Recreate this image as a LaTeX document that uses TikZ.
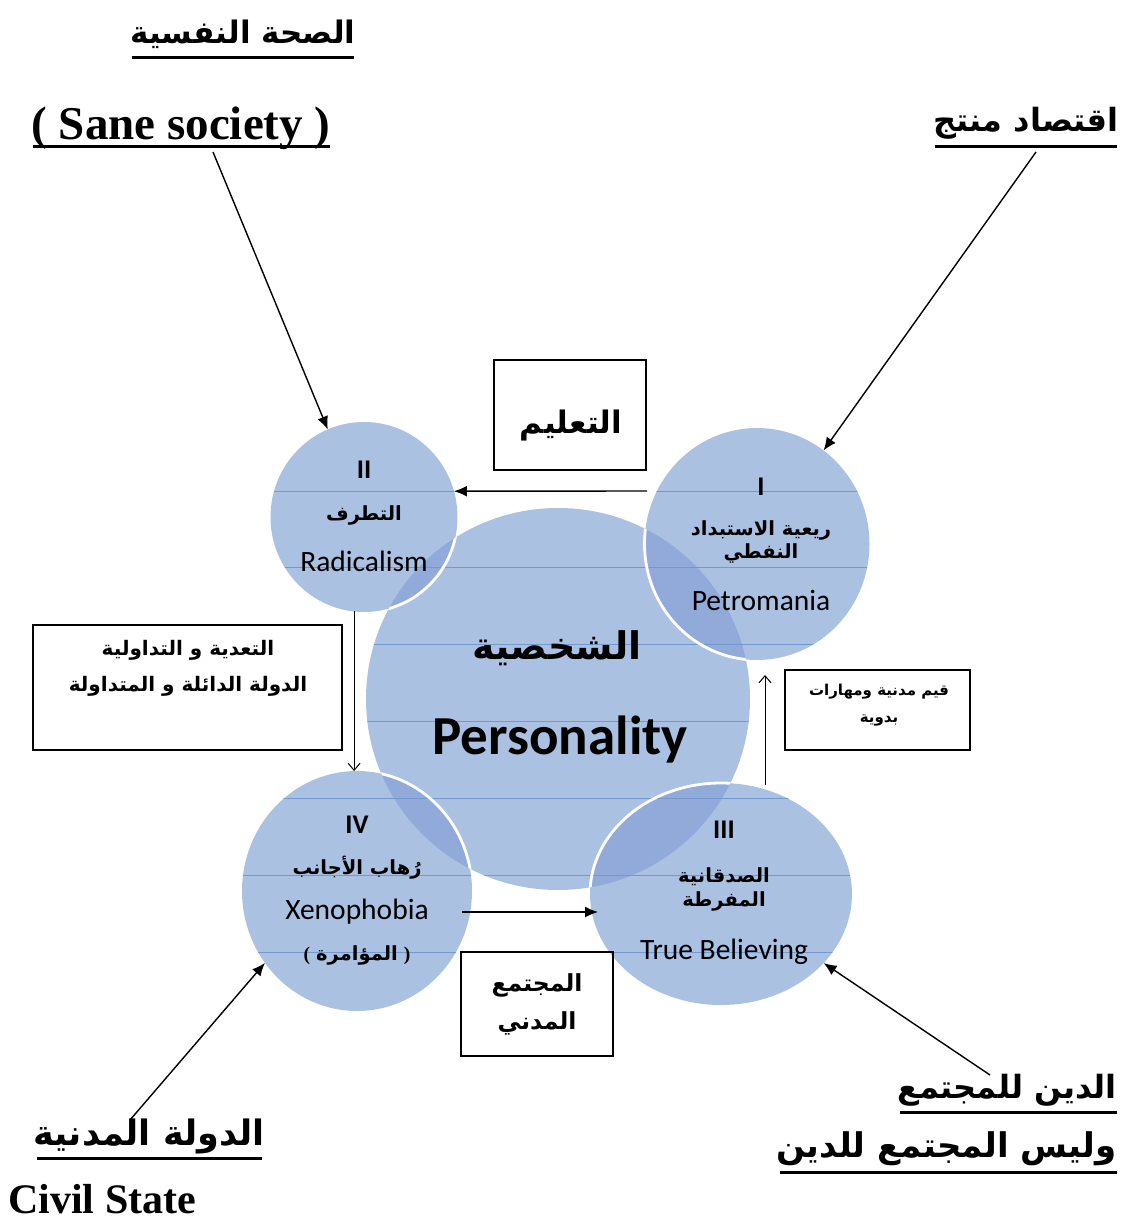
\documentclass[tikz,border=0pt]{standalone}
\usepackage{fontspec}
\setmainfont{Liberation Serif}
\newfontfamily\arabicfont[Script=Arabic]{DejaVu Sans}
\newfontfamily\calfont{Carlito}
\TeXXeTstate=1
\usetikzlibrary{shapes.geometric,arrows.meta}
\definecolor{cfill}{HTML}{AAC1E2}
\definecolor{cover}{HTML}{91AADA}
\definecolor{cline}{HTML}{7398D0}
\newcommand\AR[1]{{\arabicfont\beginR#1\endR}}
\begin{document}
\begin{tikzpicture}[x=1pt,y=-1pt,
  ell/.style={ellipse,inner sep=0pt,outer sep=0pt,fill=cfill,draw=none},
  boxn/.style={draw=black,line width=1.2pt,inner sep=0pt,outer sep=0pt},
  ctxt/.style={inner sep=0pt,font=\calfont\fontsize{29.5}{34}\selectfont},
  cnum/.style={inner sep=0pt,font=\calfont\bfseries\fontsize{27}{30}\selectfont},
  car/.style={inner sep=0pt,font=\bfseries\fontsize{19.5}{28}\selectfont,align=center},
  ttl/.style={inner sep=0pt},
  ul/.style={line width=3pt},
  arr/.style={-{Latex[length=13pt,width=11pt]},line width=1.4pt},
  tarr/.style={-{Straight Barb[length=7pt,width=12pt]},line width=1pt}]
\useasboundingbox (0,0) rectangle (1126,1221);
% circles
\node[ell,minimum width=384pt,minimum height=382pt] (pc) at (558,699) {};
\node[ell,minimum width=187pt,minimum height=190pt] (c2) at (364,517) {};
\node[ell,minimum width=225pt,minimum height=232pt] (c1) at (757,544) {};
\node[ell,minimum width=230pt,minimum height=240pt] (c4) at (357,891) {};
\node[ell,minimum width=262pt,minimum height=222pt] (c3) at (721,894) {};
\begin{scope}
  \clip (558,699) ellipse [x radius=192pt,y radius=191pt];
  \fill[cover] (364,517) ellipse [x radius=93.5pt,y radius=95pt]
               (757,544) ellipse [x radius=112.5pt,y radius=116pt]
               (357,891) ellipse [x radius=115pt,y radius=120pt]
               (721,894) ellipse [x radius=131pt,y radius=111pt];
\end{scope}
\begin{scope}
  \clip (558,699) ellipse [x radius=192pt,y radius=191pt]
        (364,517) ellipse [x radius=93.5pt,y radius=95pt]
        (757,544) ellipse [x radius=112.5pt,y radius=116pt]
        (357,891) ellipse [x radius=115pt,y radius=120pt]
        (721,894) ellipse [x radius=131pt,y radius=111pt];
  \foreach \yy in {491,567.5,644,721,798,875,952}
    \draw[cline,line width=0.6pt] (0,\yy) -- (1126,\yy);
\end{scope}
\begin{scope}
  \clip (558,699) ellipse [x radius=192pt,y radius=191pt];
  \draw[white,line width=2.8pt] (364,517) ellipse [x radius=93.5pt,y radius=95pt]
               (757,544) ellipse [x radius=112.5pt,y radius=116pt]
               (357,891) ellipse [x radius=115pt,y radius=120pt]
               (721,894) ellipse [x radius=131pt,y radius=111pt];
\end{scope}
% circle texts
\node[inner sep=0pt,font=\bfseries\fontsize{38}{46}\selectfont] (pa) at (557,648) {\AR{الشخصية}};
\node[inner sep=0pt,font=\calfont\bfseries\fontsize{55}{62}\selectfont] (pe) at (560,740) {Personality};
\node[cnum] (n2) at (364,470) {II};
\node[car] (a2) at (364,515) {\AR{التطرف}};
\node[ctxt] (e2) at (364,561) {Radicalism};
\node[cnum] (n1) at (761,487) {I};
\node[car] (a1) at (761,542) {\AR{ريعية الاستبداد}\\[-5pt]\AR{النفطي}};
\node[ctxt] (e1) at (761,600) {Petromania};
\node[cnum] (n4) at (357,825) {IV};
\node[car] (a4) at (357,868) {\AR{رُهاب الأجانب}};
\node[ctxt] (e4) at (357,912) {Xenophobia};
\node[car] (b4) at (357,955) {(\hspace{6pt}\AR{المؤامرة}\hspace{6pt})};
\node[cnum] (n3) at (724,830) {III};
\node[car] (a3) at (724,889) {\AR{الصدقانية}\\[-4pt]\AR{المفرطة}};
\node[ctxt] (e3) at (724,952) {True Believing};
% boxes
\node[boxn,minimum width=152pt,minimum height=110pt] (bt) at (570,415) {};
\node[inner sep=0pt,font=\bfseries\fontsize{31}{38}\selectfont] (tt) at (571,426) {\AR{التعليم}};
\node[boxn,minimum width=309pt,minimum height=125pt] (bl) at (187.5,687.5) {};
\node[car,font=\bfseries\fontsize{20}{36}\selectfont] (tl) at (188,668) {\AR{التعدية و التداولية}\\\AR{الدولة الدائلة و المتداولة}};
\node[boxn,minimum width=185pt,minimum height=80pt] (br) at (877.5,710) {};
\node[car,font=\bfseries\fontsize{15}{27}\selectfont] (tr) at (879,705) {\AR{قيم مدنية ومهارات}\\\AR{بدوية}};
\node[boxn,minimum width=152pt,minimum height=104pt] (bb) at (537,1004) {};
\node[car,font=\bfseries\fontsize{23.5}{38}\selectfont] (tb) at (537,1004) {\AR{المجتمع}\\\AR{المدني}};
% titles
\node[ttl,anchor=base,font=\bfseries\fontsize{31}{38}\selectfont] (t1) at (243,43) {\AR{الصحة النفسية}};
\draw[ul] (132,57) -- (354,57);
\node[inner sep=0pt,anchor=base,font=\bfseries\fontsize{47}{54}\selectfont] (t2) at (181,139) {( Sane society )};
\draw[ul] (33,146) -- (330,146);
\node[ttl,anchor=base,font=\bfseries\fontsize{32}{38}\selectfont] (t3) at (1026,131) {\AR{اقتصاد منتج}};
\draw[ul] (935,146) -- (1117,146);
\node[ttl,anchor=base,font=\bfseries\fontsize{35}{40}\selectfont] (t4) at (149,1145) {\AR{الدولة المدنية}};
\draw[ul] (37,1158) -- (262,1158);
\node[inner sep=0pt,anchor=base west,font=\bfseries\fontsize{42}{48}\selectfont] (t5) at (8,1213) {Civil State};
\node[ttl,anchor=base east,font=\bfseries\fontsize{32}{38}\selectfont] (t6) at (1117,1098) {\AR{الدين للمجتمع}};
\draw[ul] (900,1112) -- (1117,1112);
\node[ttl,anchor=base east,font=\bfseries\fontsize{34}{40}\selectfont] (t7) at (1117,1157) {\AR{وليس المجتمع للدين}};
\draw[ul] (780,1172) -- (1117,1172);
% connectors
\coordinate (s2) at (213,152);
\coordinate (s1) at (1036,152);
\coordinate (s4) at (130,1120);
\coordinate (s3) at (990,1075);
\draw[arr] (s2) -- (c2);
\draw[arr] (s1) -- (c1);
\draw[arr] (s4) -- (c4.218);
\draw[arr] (s3) -- (c3);
\coordinate (h1s) at (647,491);
\draw[arr] (h1s) -- (c2.16);
\coordinate (h2s) at (462,912);
\coordinate (h2e) at (598,912);
\draw[arr] (h2s) -- (h2e);
\draw[tarr] (c2.264) -- (c2.264 |- c4.north);
\coordinate (v2s) at (765,785);
\coordinate (v2e) at (765,675);
\draw[tarr] (v2s) -- (v2e);
\end{tikzpicture}
\end{document}
